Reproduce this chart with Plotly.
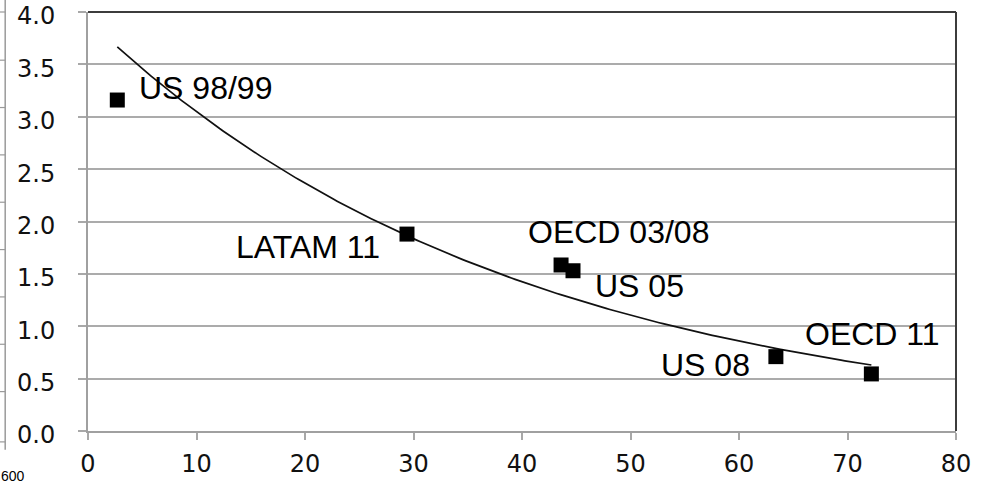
import numpy as np
import plotly.graph_objects as go

# Data
labels = ["US 98/99", "LATAM 11", "OECD 03/08", "US 05", "US 08", "OECD 11"]
x_vals = [2.7, 29.4, 43.6, 44.7, 63.4, 72.2]
y_vals = [3.16, 1.88, 1.585, 1.53, 0.71, 0.545]
x_ticks = [0, 10, 20, 30, 40, 50, 60, 70, 80]
y_ticks = [0.0, 0.5, 1.0, 1.5, 2.0, 2.5, 3.0, 3.5, 4.0]

# Exponential trendline fitted to the data (as a spreadsheet trendline)
xa = np.array(x_vals)
ya = np.array(y_vals)
b, ln_a = np.polyfit(xa, np.log(ya), 1)
x_fit = np.linspace(xa.min(), xa.max(), 200)
y_fit = np.exp(ln_a) * np.exp(b * x_fit)

fig = go.Figure()
fig.add_trace(go.Scatter(x=x_fit, y=y_fit, mode="lines",
                         line=dict(color="#111111", width=1.7),
                         hoverinfo="skip", showlegend=False))
fig.add_trace(go.Scatter(x=x_vals, y=y_vals, mode="markers",
                         marker=dict(symbol="square", size=15, color="#000000",
                                     line=dict(width=0)),
                         text=labels, showlegend=False))

# label placement (pixel offsets from each point)
label_style = {
    "US 98/99": dict(xanchor="left", xshift=20, yshift=12),
    "LATAM 11": dict(xanchor="right", xshift=-25, yshift=-13),
    "OECD 03/08": dict(xanchor="center", xshift=57, yshift=33),
    "US 05": dict(xanchor="left", xshift=20, yshift=-15),
    "US 08": dict(xanchor="right", xshift=-24, yshift=-8),
    "OECD 11": dict(xanchor="center", xshift=1, yshift=40),
}
for lab, xv, yv in zip(labels, x_vals, y_vals):
    st = label_style[lab]
    fig.add_annotation(x=xv, y=yv, text=lab, showarrow=False,
                       yanchor="middle",
                       font=dict(family="Liberation Sans, Arial", size=32, color="#000000"),
                       **st)

grid_col = "#ababab"
tick_font = dict(family="DejaVu Sans", size=24, color="#111111")
fig.update_xaxes(range=[0, 80], tickvals=x_ticks, ticktext=[str(v) for v in x_ticks],
                 showgrid=False, zeroline=False, automargin=False,
                 showline=True, linecolor="#a0a0a0", linewidth=2,
                 ticks="outside", ticklen=7, tickwidth=2, tickcolor="#a8a8a8",
                 ticklabelstandoff=3, ticklabeloverflow="allow", tickfont=tick_font)
fig.update_yaxes(range=[0, 4.0005], tickvals=y_ticks, ticktext=[f"{v:.1f}" for v in y_ticks],
                 showgrid=True, gridcolor=grid_col, gridwidth=2, zeroline=False,
                 automargin=False,
                 showline=True, linecolor="#a0a0a0", linewidth=2,
                 ticks="outside", ticklen=8, tickwidth=2, tickcolor="#a8a8a8",
                 ticklabelstandoff=18, ticklabelshift=4,
                 ticklabeloverflow="allow", tickfont=tick_font)

# dark top and right frame
fig.add_shape(type="line", xref="paper", yref="paper", x0=0, x1=1, y0=1, y1=1,
              line=dict(color="#3c3c3c", width=2))
fig.add_shape(type="line", xref="paper", yref="paper", x0=1, x1=1, y0=0, y1=1,
              line=dict(color="#3c3c3c", width=2))

# cropped neighbour chart remnant on the far left edge
fig.add_shape(type="line", xref="paper", yref="paper", x0=-0.0954, x1=-0.0954, y0=-0.045, y1=1.05,
              line=dict(color="#9a9a9a", width=1.5))
for yy in [1.0, 0.885, 0.772, 0.659, 0.546, 0.433, 0.32, 0.207, 0.094, -0.026]:
    fig.add_shape(type="line", xref="paper", yref="paper", x0=-0.102, x1=-0.0954, y0=yy, y1=yy,
                  line=dict(color="#9a9a9a", width=1.2))
fig.add_annotation(xref="paper", yref="paper", x=-0.0865, y=-0.13, text="600",
                   showarrow=False, xanchor="center", yanchor="bottom", borderpad=0,
                   font=dict(family="Liberation Sans, Arial", size=14, color="#000000"))

fig.update_layout(width=994, height=487,
                  margin=dict(l=88, r=38, t=12, b=56, autoexpand=False),
                  paper_bgcolor="white", plot_bgcolor="white",
                  showlegend=False)

fig.write_html("out.html", config={"displayModeBar": False},
               post_script="document.body.style.margin='0px';")
